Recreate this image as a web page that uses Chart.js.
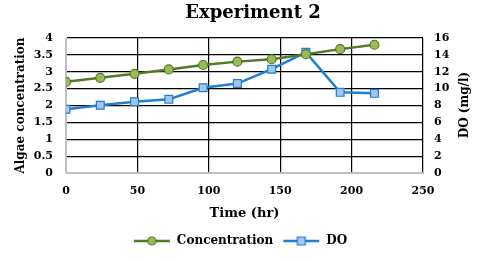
<!DOCTYPE html>
<html lang="en">
<head>
    <meta charset="UTF-8">
    <title>Experiment 2</title>
    <script src="https://cdn.jsdelivr.net/npm/chart.js"></script>
    <style>
        html, body { margin: 0; padding: 0; background: #fff; }
        #wrap { width: 480px; height: 262px; }
    </style>
</head>
<body>
<div id="wrap"><canvas id="chart" width="480" height="262"></canvas></div>
<script>
    const timeHr = [0, 24, 48, 72, 96, 120, 144, 168, 192, 216];
    const concentration = [2.70, 2.82, 2.94, 3.07, 3.20, 3.30, 3.37, 3.52, 3.67, 3.80];
    const doValues = [7.55, 8.02, 8.45, 8.73, 10.1, 10.6, 12.3, 14.3, 9.56, 9.44];

    const serif = "'DejaVu Serif', 'Liberation Serif', serif";
    const greenLine = '#4e7a2a';
    const greenFill = '#9bbb59';
    const blueLine = '#1f7fd1';
    const blueFill = '#a4c6ea';

    // legend marker: short line with the point symbol on it
    function legendIcon(lineColor, fillColor, shape) {
        const c = document.createElement('canvas');
        c.width = 38; c.height = 12;
        const g = c.getContext('2d');
        g.strokeStyle = lineColor;
        g.lineWidth = 2.5;
        g.beginPath(); g.moveTo(1, 6); g.lineTo(37, 6); g.stroke();
        g.fillStyle = fillColor;
        g.lineWidth = 1.2;
        g.beginPath();
        if (shape === 'circle') g.arc(19, 6, 4, 0, Math.PI * 2);
        else g.rect(15, 2, 8, 8);
        g.fill(); g.stroke();
        return c;
    }

    function gridColor(ctx) {
        return ctx.tick && ctx.tick.value === 0 ? '#bfbfbf' : '#000';
    }

    // chart title sits a bit right of centre, and the right axis title reads bottom-to-top
    const extraText = {
        id: 'extraText',
        afterDraw(chart) {
            const g = chart.ctx;
            g.save();
            g.fillStyle = '#000';
            g.textAlign = 'center';
            g.textBaseline = 'middle';
            g.font = 'bold 18px ' + serif;
            g.fillText('Experiment 2', 253, 13);
            g.font = 'bold 12px ' + serif;
            g.translate(465, 105);
            g.rotate(-Math.PI / 2);
            g.fillText('DO (mg/l)', 0, 0);
            g.restore();
        }
    };

    const tickFont = {family: serif, size: 11, weight: 'bold'};

    new Chart(document.getElementById('chart'), {
        type: 'line',
        data: {
            datasets: [{
                label: 'Concentration',
                data: timeHr.map((t, i) => ({x: t, y: concentration[i]})),
                yAxisID: 'y',
                borderColor: greenLine,
                borderWidth: 2.5,
                pointStyle: 'circle',
                pointRadius: 4.5,
                pointBackgroundColor: greenFill,
                pointBorderColor: greenLine,
                pointBorderWidth: 1.2,
                tension: 0
            }, {
                label: 'DO',
                data: timeHr.map((t, i) => ({x: t, y: doValues[i]})),
                yAxisID: 'y2',
                borderColor: blueLine,
                borderWidth: 2.5,
                pointStyle: 'rect',
                pointRadius: 5.5,
                pointBackgroundColor: blueFill,
                pointBorderColor: blueLine,
                pointBorderWidth: 1.2,
                tension: 0
            }]
        },
        options: {
            responsive: false,
            animation: false,
            layout: {padding: {top: 38, bottom: 5}},
            plugins: {
                title: {display: false},
                legend: {
                    position: 'bottom',
                    labels: {
                        color: '#000',
                        font: {family: serif, size: 12, weight: 'bold'},
                        usePointStyle: true,
                        pointStyleWidth: 38,
                        padding: 9,
                        generateLabels(chart) {
                            return [
                                {text: 'Concentration', pointStyle: legendIcon(greenLine, greenFill, 'circle'), datasetIndex: 0, fontColor: '#000', lineWidth: 0, strokeStyle: 'transparent', fillStyle: 'transparent'},
                                {text: 'DO', pointStyle: legendIcon(blueLine, blueFill, 'rect'), datasetIndex: 1, fontColor: '#000', lineWidth: 0, strokeStyle: 'transparent', fillStyle: 'transparent'}
                            ];
                        }
                    }
                },
                tooltip: {enabled: false}
            },
            scales: {
                x: {
                    type: 'linear',
                    min: 0, max: 250,
                    ticks: {stepSize: 50, color: '#000', font: tickFont, padding: 12},
                    grid: {color: gridColor, lineWidth: 1.2, drawTicks: false},
                    border: {color: '#bfbfbf', width: 1},
                    title: {display: true, text: 'Time (hr)', color: '#000', font: {family: serif, size: 13, weight: 'bold'}, padding: {top: 0, bottom: 5}},
                    afterFit(s) { s.height = 53; }
                },
                y: {
                    position: 'left',
                    min: 0, max: 4,
                    ticks: {stepSize: 0.5, color: '#000', font: tickFont, padding: 13,
                        callback: v => String(v)},
                    grid: {color: gridColor, lineWidth: 1.2, drawTicks: false},
                    border: {color: '#bfbfbf', width: 1},
                    title: {display: true, text: 'Algae concentration', color: '#000', font: {family: serif, size: 12, weight: 'bold'}, padding: {top: 14, bottom: 2}},
                    afterFit(s) { s.width = 66; }
                },
                y2: {
                    position: 'right',
                    min: 0, max: 16,
                    ticks: {stepSize: 2, color: '#000', font: tickFont, padding: 11},
                    grid: {display: false, drawTicks: false},
                    border: {color: '#bfbfbf', width: 1},
                    afterFit(s) { s.width = 57; }
                }
            }
        },
        plugins: [extraText]
    });
</script>
</body>
</html>
